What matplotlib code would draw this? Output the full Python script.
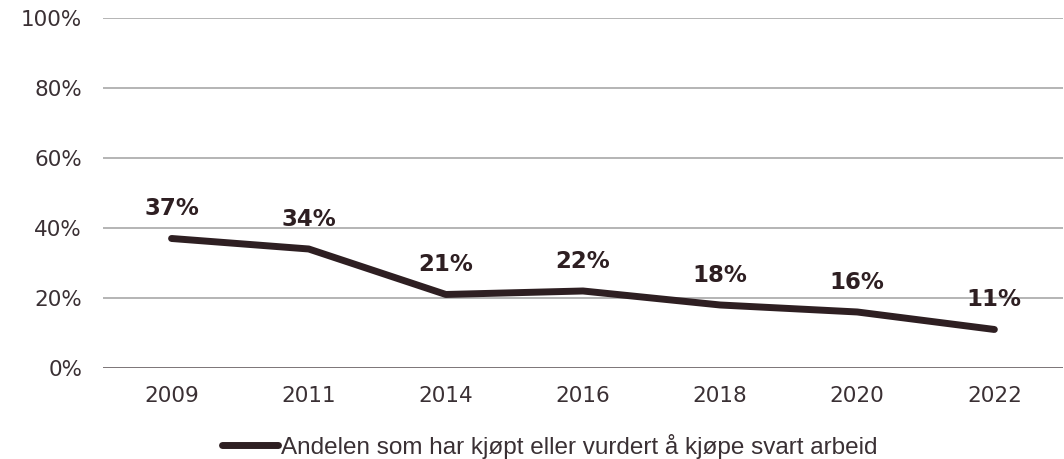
import matplotlib.pyplot as plt
from matplotlib.ticker import FuncFormatter

# Data
years = ["2009", "2011", "2014", "2016", "2018", "2020", "2022"]
share = [37, 34, 21, 22, 18, 16, 11]
series_name = "Andelen som har kjøpt eller vurdert å kjøpe svart arbeid"

line_color = "#2e1f22"
text_color = "#3a3034"

plt.rcParams["font.family"] = ["DejaVu Sans"]

fig = plt.figure(figsize=(10.64, 4.59), dpi=100)
ax = fig.add_axes([0.0968, 0.1983, 0.9022, 0.7625])

x = list(range(len(years)))
ax.plot(x, share, color=line_color, lw=5, solid_capstyle="round",
        solid_joinstyle="round", label=series_name, zorder=3)

for xi, v in zip(x, share):
    ax.annotate(f"{v}%", (xi, v), xytext=(0, 21.5), textcoords="offset points",
                ha="center", va="center", fontsize=16.5, fontweight="bold",
                color=line_color)

ax.set_xlim(-0.5, len(years) - 0.5)
ax.set_ylim(0, 100)
ax.set_yticks(range(0, 101, 20))
ax.yaxis.set_major_formatter(FuncFormatter(lambda v, p: f"{v:.0f}%"))
ax.set_xticks(x)
ax.set_xticklabels(years)

ax.grid(axis="y", color="#a8a8a8", lw=1.2)
ax.axhline(0, color="#7a7274", lw=1.3, zorder=2)
for s in ax.spines.values():
    s.set_visible(False)
ax.tick_params(length=0, labelsize=15.5, colors=text_color)
ax.tick_params(axis="x", pad=13)
ax.tick_params(axis="y", pad=15)

fig.legend(loc="center", bbox_to_anchor=(0.517, 0.028), frameon=False,
           handlelength=2.3, handletextpad=0.12,
           prop={"family": "Liberation Sans", "size": 17.5},
           labelcolor=text_color)

fig.savefig("out.png", dpi=100)
